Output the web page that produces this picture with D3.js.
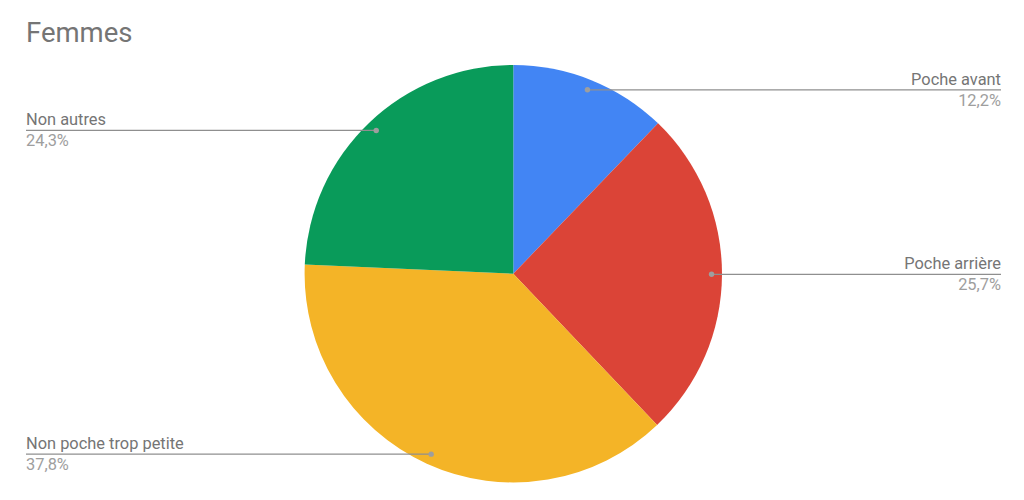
<!DOCTYPE html>
<html>
<head>
<meta charset="utf-8">
<script src="https://cdn.jsdelivr.net/npm/d3@7"></script>
<style>
  body { margin: 0; background: #fff; }
  svg { font-family: Roboto, sans-serif; }
</style>
</head>
<body>
<div id="chart"></div>
<script>
// slices, clockwise from 12 o'clock
const categories = ['Poche avant', 'Poche arrière', 'Non poche trop petite', 'Non autres'];
const values = [12.2, 25.7, 37.8, 24.3];
const colors = ['#4285f4', '#db4437', '#f4b427', '#099b5a'];
const percentLabels = ['12,2%', '25,7%', '37,8%', '24,3%'];

let width = 1024, height = 500;
let cx = 513.3, cy = 273.7, radius = 208.7;

let svg = d3.select('#chart').append('svg')
  .attr('width', width)
  .attr('height', height);

svg.append('text')
  .attr('x', 26)
  .attr('y', 42)
  .attr('font-size', 27.5)
  .attr('fill', '#757575')
  .text('Femmes');

let pie = d3.pie().sort(null).value(d => d);
let arcs = pie(values);

let arc = d3.arc().innerRadius(0).outerRadius(radius);
let dotArc = d3.arc().innerRadius(radius * 0.95).outerRadius(radius * 0.95);

let g = svg.append('g').attr('transform', `translate(${cx},${cy})`);

g.selectAll('path.slice')
  .data(arcs)
  .enter().append('path')
  .attr('class', 'slice')
  .attr('d', arc)
  .attr('fill', (d, i) => colors[i]);

// leader lines with labels
let labels = svg.append('g');
arcs.forEach(function(d, i) {
  let p = dotArc.centroid(d);
  let px = cx + p[0], py = cy + p[1];
  let right = p[0] > 0;
  let endX = right ? 1001 : 26;

  labels.append('line')
    .attr('x1', px).attr('y1', py)
    .attr('x2', endX).attr('y2', py)
    .attr('stroke', '#8f8f8f')
    .attr('stroke-width', 1.3);

  labels.append('circle')
    .attr('cx', px).attr('cy', py)
    .attr('r', 2.7)
    .attr('fill', '#9e9e9e');

  labels.append('text')
    .attr('x', endX).attr('y', py - 5)
    .attr('text-anchor', right ? 'end' : 'start')
    .attr('font-size', 16.4)
    .attr('fill', '#757575')
    .text(categories[i]);

  labels.append('text')
    .attr('x', endX).attr('y', py + 16)
    .attr('text-anchor', right ? 'end' : 'start')
    .attr('font-size', 16.4)
    .attr('fill', '#9e9e9e')
    .text(percentLabels[i]);
});
</script>
</body>
</html>
